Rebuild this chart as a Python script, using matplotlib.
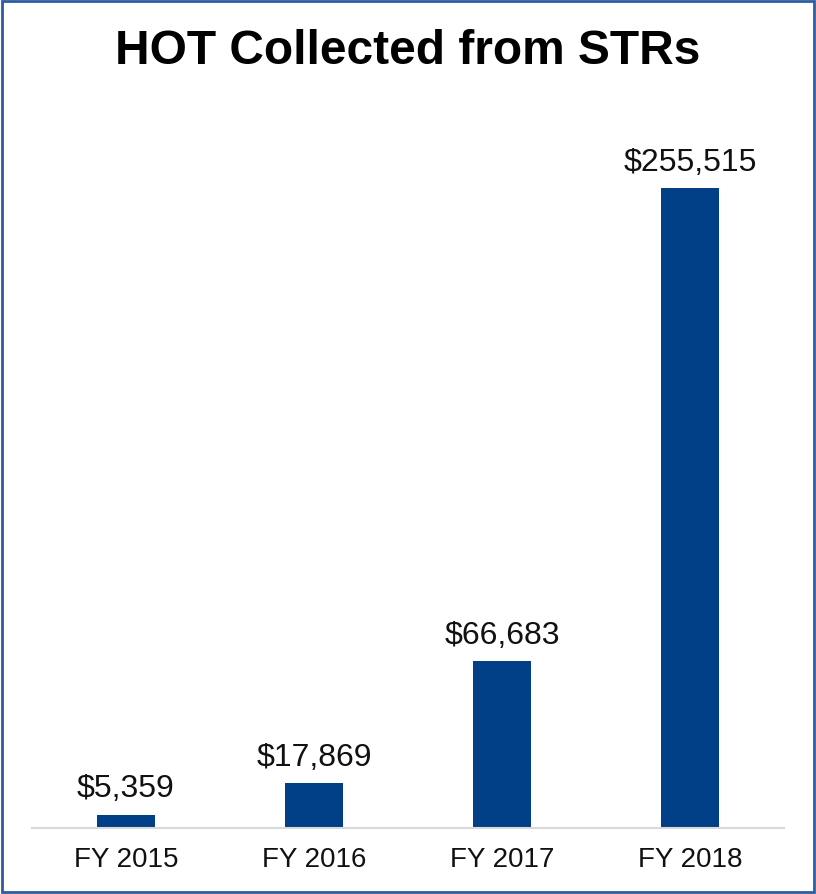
import matplotlib
matplotlib.use("Agg")
import matplotlib.pyplot as plt
from matplotlib.patches import Rectangle

# Data
years = ["FY 2015", "FY 2016", "FY 2017", "FY 2018"]
hot_collected = [5359, 17869, 66683, 255515]

plt.rcParams["font.family"] = ["Liberation Sans", "DejaVu Sans"]

fig = plt.figure(figsize=(8.16, 8.95), dpi=100)
ax = fig.add_axes([32 / 816, 66 / 895, 752 / 816, 701 / 895])

x = range(len(years))
bars = ax.bar(x, hot_collected, width=0.31, color="#013F87")

for b, v in zip(bars, hot_collected):
    ax.annotate(
        "${:,}".format(v),
        (b.get_x() + b.get_width() / 2, v),
        xytext=(0, 8),
        textcoords="offset points",
        ha="center",
        va="bottom",
        fontsize=23,
        color="#111111",
    )

ax.set_xlim(-0.5, 3.5)
ax.set_ylim(0, 280000)
ax.set_xticks(list(x))
ax.set_xticklabels(years, fontsize=20, color="#111111")
ax.tick_params(axis="x", length=0, pad=13)
ax.set_yticks([])
for s in ["top", "right", "left"]:
    ax.spines[s].set_visible(False)
ax.spines["bottom"].set_color("#D9D9D9")
ax.spines["bottom"].set_linewidth(1.5)

fig.text(0.5, 1 - 52 / 895, "HOT Collected from STRs", ha="center", va="center",
         fontsize=34.5, fontweight="bold", color="black")

# Blue frame around the chart
fig.patches.append(Rectangle((0.002, 0.002), 0.996, 0.996, transform=fig.transFigure,
                             fill=False, edgecolor="#2E5D9F", linewidth=2))

fig.savefig("out.png", dpi=100)
